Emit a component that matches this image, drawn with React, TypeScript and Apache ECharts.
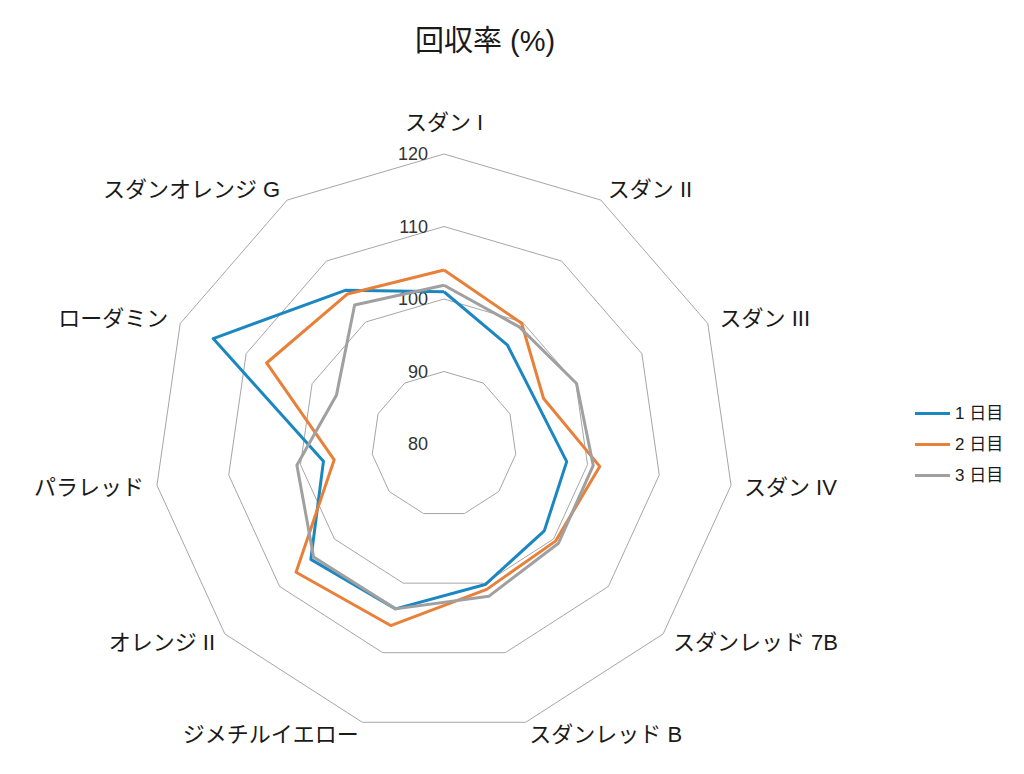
import { useEffect, useRef } from "react";
import * as echarts from "echarts";

// 軸（時計回り、上から）
const categories = [
  "スダン I",
  "スダン II",
  "スダン III",
  "スダン IV",
  "スダンレッド 7B",
  "スダンレッド B",
  "ジメチルイエロー",
  "オレンジ II",
  "パラレッド",
  "ローダミン",
  "スダンオレンジ G",
];

const seriesNames = ["1 日目", "2 日目", "3 日目"];
const day1 = [101.0, 96.2, 94.0, 97.1, 98.3, 100.2, 103.7, 104.3, 96.8, 115.0, 105.2];
const day2 = [104.0, 99.8, 95.1, 101.7, 100.4, 100.9, 106.1, 107.0, 95.3, 106.9, 104.6];
const day3 = [101.9, 99.2, 100.1, 100.8, 100.9, 101.9, 103.7, 103.8, 100.5, 96.3, 102.8];
const colors = ["#1b87c0", "#e8803a", "#a0a0a0"];

const axisMin = 80;
const axisMax = 120;

const FONT = "'Liberation Sans', 'Noto Sans CJK JP', sans-serif";

// echartsのレーダーは反時計回りなので順番を入れ替える
const order = categories.map((_, i) => (i === 0 ? 0 : categories.length - i));

export default function App() {
  const chartRef = useRef<HTMLDivElement>(null);

  useEffect(() => {
    if (!chartRef.current) return;
    const chart = echarts.init(chartRef.current, null, { renderer: "svg" });

    const indicator = order.map((i, k) => ({
      name: categories[i],
      min: axisMin,
      max: axisMax,
      axisLabel: { show: k === 0 },
    }));
    const reorder = (arr: number[]) => order.map(i => arr[i]);

    chart.setOption({
      animation: false,
      color: colors,
      title: {
        text: "回収率 (%)",
        left: 410,
        top: 21,
        textStyle: { fontFamily: FONT, fontSize: 29, fontWeight: "normal", color: "#1a1a1a" },
      },
      legend: {
        orient: "vertical",
        left: 910,
        top: 400,
        itemWidth: 35,
        itemHeight: 3,
        itemGap: 14,
        icon: "rect",
        data: seriesNames,
        textStyle: { fontFamily: FONT, fontSize: 17, color: "#1a1a1a" },
      },
      radar: {
        center: [444, 444],
        radius: 290,
        startAngle: 90,
        splitNumber: 4,
        shape: "polygon",
        nameGap: 13,
        axisName: {
          color: "#1a1a1a",
          fontSize: 22,
          fontFamily: FONT,
          formatter: (name: string) => (name === categories[0] ? `{top|${name}}` : name),
          rich: {
            top: { color: "#1a1a1a", fontSize: 22, fontFamily: FONT, padding: [0, 0, 8, 0] },
          },
        },
        axisLine: { show: false },
        axisTick: { show: false },
        axisLabel: {
          show: false,
          margin: 16,
          fontSize: 18,
          fontFamily: FONT,
          color: "#333",
        },
        splitLine: { lineStyle: { color: "#a6a6a6", width: 1 } },
        splitArea: { show: false },
        indicator,
      },
      series: [
        {
          type: "radar",
          symbol: "none",
          lineStyle: { width: 3 },
          data: [
            { name: seriesNames[0], value: reorder(day1), lineStyle: { color: colors[0], width: 3 } },
            { name: seriesNames[1], value: reorder(day2), lineStyle: { color: colors[1], width: 3 } },
            { name: seriesNames[2], value: reorder(day3), lineStyle: { color: colors[2], width: 3 } },
          ],
        },
      ],
    });

    return () => {
      chart.dispose();
    };
  }, []);

  return (
    <div
      ref={chartRef}
      style={{ position: "fixed", left: 0, top: 0, width: 1024, height: 774, background: "#fff" }}
    />
  );
}
